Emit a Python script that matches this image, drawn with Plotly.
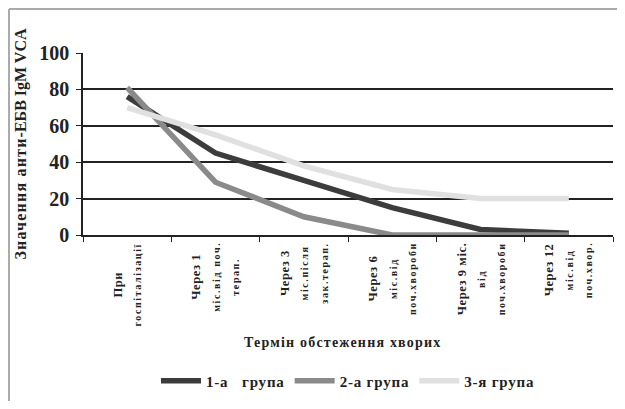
import plotly.graph_objects as go

cat_ids = ["c1", "c2", "c3", "c4", "c5", "c6"]
cat_head = ["При", "Через 1", "Через 3", "Через 6", "Через 9 міс.", "Через 12"]
cat_rest = [
    ["госпіталізації"],
    ["міс.від поч.", "терап."],
    ["міс.після", "зак.терап."],
    ["міс.від", "поч.хвороби"],
    ["від", "поч.хвороби"],
    ["міс.від", "поч.хвор."],
]
group1 = [76, 45, 30, 15, 3, 1]
group2 = [81, 29, 10, 0, 0, 0]
group3 = [70, 55, 38, 25, 20, 20]
series_names = ["1-а   група", "2-а група", "3-я група"]
y_ticks = [0, 20, 40, 60, 80, 100]
x_title = "Термін обстеження хворих"
y_title_a, y_title_b = "Значення анти", "-ЕБВ IgM VCA"

colors = ["#3c3c3c", "#8a8a8a", "#e0e0e0"]
serif = "Liberation Serif, Times New Roman, serif"
INK = "#222222"


def spaced(txt, ls):
    return f"<span style='letter-spacing:{ls}px'>{txt}</span>"


fig = go.Figure()
for name, vals, col in zip(series_names, [group1, group2, group3], colors):
    fig.add_trace(go.Scatter(
        x=cat_ids, y=vals, mode="lines", name=spaced(name, 0.8),
        line=dict(color=col, width=5.5),
    ))

# category labels (rotated, lines centred like the original)
for cid, head, rest in zip(cat_ids, cat_head, cat_rest):
    lines = [f"<span style='font-size:12.5px;font-weight:bold;letter-spacing:0.6px'>{head}</span>"]
    lines += [f"<span style='font-size:10px;font-weight:bold;letter-spacing:1.6px'>{r}</span>" for r in rest]
    fig.add_annotation(
        x=cid, xref="x", y=-0.035, yref="paper",
        text="<br>".join(lines), textangle=-90,
        xanchor="center", yanchor="top", align="center",
        showarrow=False, font=dict(family=serif, size=15, color=INK),
        borderpad=0,
    )

# x-axis title
fig.add_annotation(
    x=0.489, xref="paper", y=-0.588, yref="paper",
    text="<b>" + spaced(x_title, 1.2) + "</b>",
    xanchor="center", yanchor="middle", showarrow=False,
    font=dict(family=serif, size=14, color=INK),
)

fig.update_layout(
    width=609, height=393,
    margin=dict(l=75, r=4, t=45, b=166),
    paper_bgcolor="white", plot_bgcolor="white",
    font=dict(family=serif, color=INK),
    showlegend=True,
    legend=dict(
        orientation="h", x=0.5, xanchor="center", y=-0.802, yanchor="middle",
        font=dict(family=serif, size=15, color=INK, weight="bold"),
        itemwidth=40, tracegroupgap=0,
    ),
    xaxis=dict(
        type="category", automargin=False,
        tickmode="array", tickvals=cat_ids, showticklabels=False,
        tickson="boundaries",
        ticks="outside", ticklen=5, tickcolor=INK,
        showline=True, linecolor=INK, linewidth=1.5,
        showgrid=False,
        range=[-0.5, 5.5],
    ),
    yaxis=dict(
        range=[0, 100], tickvals=y_ticks, automargin=False,
        ticks="outside", ticklen=5, tickcolor=INK,
        showline=True, linecolor=INK, linewidth=1.5,
        showgrid=True, gridcolor=INK, gridwidth=1.5,
        zeroline=False, ticklabelstandoff=3,
        tickfont=dict(family=serif, size=20, color=INK, weight="bold"),
        title=dict(text="<b>" + spaced(y_title_a, 1.2) + y_title_b + "</b>",
                   font=dict(family=serif, size=16, color=INK),
                   standoff=9),
    ),
)

# outer frame (left and top edges)
fig.add_shape(type="line", xref="paper", yref="paper",
              x0=-0.1396, x1=1.05, y0=1.2418, y1=1.2418,
              line=dict(color="#aaaaaa", width=2))
fig.add_shape(type="line", xref="paper", yref="paper",
              x0=-0.1396, x1=-0.1396, y0=1.2418, y1=-1.0,
              line=dict(color="#aaaaaa", width=2))

fig.write_html("out.html")
